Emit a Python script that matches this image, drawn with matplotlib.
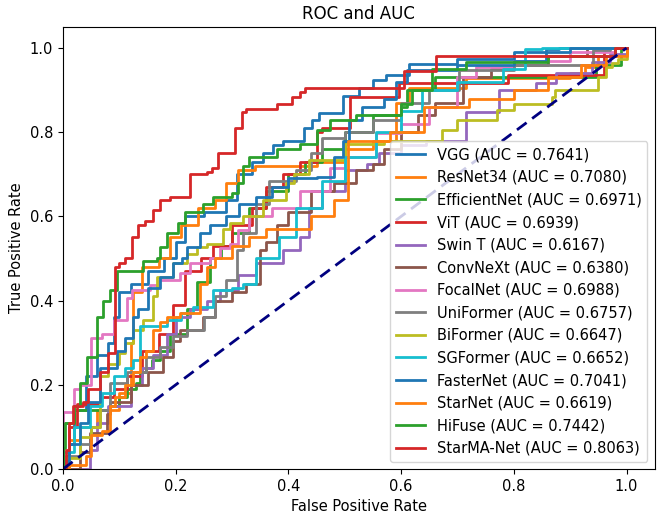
import matplotlib
matplotlib.use('Agg')
import matplotlib.pyplot as plt

# ROC step points: (fpr where tpr jumps, tpr after the jump)
names = ['VGG', 'ResNet34', 'EfficientNet', 'ViT', 'Swin T', 'ConvNeXt', 'FocalNet',
         'UniFormer', 'BiFormer', 'SGFormer', 'FasterNet', 'StarNet', 'HiFuse', 'StarMA-Net']
aucs = [0.7641, 0.7080, 0.6971, 0.6939, 0.6167, 0.6380, 0.6988,
        0.6757, 0.6647, 0.6652, 0.7041, 0.6619, 0.7442, 0.8063]

vgg_fpr = [0, 0, 0.01, 0.02, 0.04, 0.06, 0.08, 0.09, 0.10, 0.12, 0.15, 0.18, 0.20, 0.216, 0.25, 0.29, 0.308,
           0.336, 0.354, 0.372, 0.39, 0.428, 0.442, 0.455, 0.496, 0.526, 0.55, 0.573, 0.614, 0.70, 0.80, 0.857, 0.88, 1.0]
vgg_tpr = [0, 0.02, 0.06, 0.14, 0.22, 0.27, 0.30, 0.36, 0.42, 0.44, 0.47, 0.50, 0.54, 0.60, 0.61, 0.64, 0.70,
           0.73, 0.75, 0.77, 0.78, 0.81, 0.83, 0.845, 0.887, 0.906, 0.923, 0.935, 0.963, 0.975, 0.99, 0.998, 1.0, 1.0]

resnet_fpr = [0, 0.005, 0.01, 0.03, 0.06, 0.10, 0.12, 0.124, 0.14, 0.17, 0.19, 0.21, 0.24, 0.27, 0.29, 0.31,
              0.34, 0.45, 0.50, 0.55, 0.59, 0.614, 0.715, 0.90, 0.927, 0.95, 0.98, 1.0]
resnet_tpr = [0, 0.03, 0.07, 0.10, 0.14, 0.18, 0.30, 0.42, 0.48, 0.50, 0.55, 0.58, 0.62, 0.64, 0.68, 0.71,
              0.72, 0.73, 0.76, 0.78, 0.87, 0.904, 0.928, 0.94, 0.955, 0.98, 1.0, 1.0]

effnet_fpr = [0, 0, 0.02, 0.083, 0.10, 0.113, 0.13, 0.136, 0.148, 0.157, 0.172, 0.19, 0.22, 0.237, 0.26, 0.28,
              0.30, 0.33, 0.36, 0.40, 0.43, 0.46, 0.50, 0.55, 0.60, 0.61, 0.66, 0.945, 0.99, 1.0]
effnet_tpr = [0, 0.11, 0.14, 0.15, 0.17, 0.19, 0.205, 0.23, 0.24, 0.26, 0.28, 0.32, 0.38, 0.445, 0.50, 0.53,
              0.56, 0.62, 0.66, 0.70, 0.73, 0.76, 0.80, 0.84, 0.86, 0.90, 0.93, 0.96, 1.0, 1.0]

vit_fpr = [0, 0.005, 0.01, 0.024, 0.065, 0.09, 0.113, 0.14, 0.17, 0.195, 0.216, 0.245, 0.266, 0.30, 0.336,
           0.36, 0.39, 0.42, 0.45, 0.46, 0.51, 0.597, 0.79, 0.96, 1.0]
vit_tpr = [0, 0.03, 0.10, 0.155, 0.17, 0.19, 0.22, 0.28, 0.32, 0.39, 0.47, 0.50, 0.53, 0.58, 0.62,
           0.67, 0.70, 0.73, 0.80, 0.81, 0.883, 0.916, 0.935, 1.0, 1.0]

swin_fpr = [0, 0.047, 0.06, 0.08, 0.12, 0.14, 0.16, 0.184, 0.20, 0.225, 0.255, 0.278, 0.31, 0.343, 0.39, 0.42,
            0.437, 0.46, 0.50, 0.54, 0.56, 0.60, 0.644, 0.715, 0.773, 0.84, 0.874, 0.938, 0.97, 1.0]
swin_tpr = [0, 0.045, 0.11, 0.15, 0.20, 0.24, 0.27, 0.32, 0.36, 0.38, 0.40, 0.425, 0.46, 0.49, 0.52, 0.55,
            0.62, 0.66, 0.71, 0.725, 0.75, 0.77, 0.78, 0.847, 0.90, 0.918, 0.94, 0.966, 0.985, 1.0]

convnext_fpr = [0, 0.03, 0.047, 0.078, 0.083, 0.12, 0.15, 0.177, 0.195, 0.207, 0.248, 0.27, 0.30, 0.325, 0.35,
                0.36, 0.38, 0.40, 0.44, 0.48, 0.52, 0.55, 0.57, 0.60, 0.63, 0.66, 0.71, 0.76, 0.80, 0.86, 0.93, 1.0]
convnext_tpr = [0, 0.04, 0.085, 0.13, 0.16, 0.20, 0.23, 0.265, 0.305, 0.33, 0.36, 0.40, 0.42, 0.44, 0.52,
                0.54, 0.58, 0.61, 0.66, 0.68, 0.71, 0.725, 0.76, 0.80, 0.84, 0.87, 0.93, 0.95, 0.96, 0.98, 1.0, 1.0]

focal_fpr = [0, 0, 0.02, 0.03, 0.05, 0.07, 0.09, 0.113, 0.122, 0.154, 0.17, 0.207, 0.225, 0.26, 0.278, 0.296,
             0.31, 0.33, 0.37, 0.42, 0.473, 0.50, 0.556, 0.60, 0.65, 0.70, 0.733, 0.80, 0.90, 0.98, 1.0]
focal_tpr = [0, 0.135, 0.19, 0.20, 0.31, 0.32, 0.355, 0.405, 0.425, 0.437, 0.45, 0.465, 0.49, 0.50, 0.525, 0.535,
             0.567, 0.60, 0.62, 0.66, 0.716, 0.74, 0.797, 0.82, 0.86, 0.93, 0.954, 0.97, 0.99, 1.0, 1.0]

uni_fpr = [0, 0.01, 0.03, 0.05, 0.065, 0.083, 0.113, 0.148, 0.172, 0.195, 0.22, 0.25, 0.27, 0.29, 0.308, 0.32,
           0.343, 0.366, 0.414, 0.44, 0.46, 0.50, 0.55, 0.60, 0.65, 0.703, 0.80, 0.94, 0.97, 1.0]
uni_tpr = [0, 0.03, 0.06, 0.10, 0.14, 0.205, 0.23, 0.265, 0.29, 0.315, 0.33, 0.36, 0.41, 0.45, 0.52, 0.56,
           0.63, 0.685, 0.71, 0.75, 0.787, 0.80, 0.83, 0.87, 0.90, 0.947, 0.96, 0.995, 1.0, 1.0]

bi_fpr = [0, 0, 0.03, 0.05, 0.065, 0.08, 0.10, 0.11, 0.124, 0.142, 0.16, 0.166, 0.195, 0.22, 0.237, 0.255,
          0.283, 0.296, 0.32, 0.354, 0.396, 0.41, 0.437, 0.50, 0.57, 0.673, 0.70, 0.77, 0.80, 0.867,
          0.873, 0.95, 0.963, 0.975, 0.985, 1.0]
bi_tpr = [0, 0.025, 0.075, 0.10, 0.22, 0.25, 0.275, 0.30, 0.33, 0.355, 0.41, 0.455, 0.49, 0.51, 0.527, 0.535,
          0.57, 0.585, 0.60, 0.638, 0.68, 0.70, 0.733, 0.773, 0.78, 0.805, 0.828, 0.852, 0.868, 0.883,
          0.90, 0.93, 0.955, 0.965, 0.975, 1.0]

sg_fpr = [0, 0, 0.02, 0.047, 0.07, 0.09, 0.11, 0.124, 0.136, 0.184, 0.21, 0.23, 0.266, 0.30, 0.32, 0.343,
          0.384, 0.414, 0.46, 0.50, 0.556, 0.60, 0.637, 0.70, 0.78, 0.82, 0.85, 1.0]
sg_tpr = [0, 0.04, 0.10, 0.15, 0.18, 0.22, 0.24, 0.26, 0.34, 0.355, 0.37, 0.385, 0.425, 0.43, 0.44, 0.50,
          0.55, 0.62, 0.685, 0.74, 0.80, 0.85, 0.90, 0.92, 0.95, 0.997, 1.0, 1.0]

faster_fpr = [0, 0.005, 0.01, 0.03, 0.045, 0.065, 0.095, 0.11, 0.124, 0.133, 0.15, 0.172, 0.195, 0.212, 0.22,
              0.243, 0.26, 0.29, 0.313, 0.343, 0.37, 0.40, 0.45, 0.48, 0.497, 0.508, 0.53, 0.57, 0.59, 0.61,
              0.70, 0.80, 0.857, 0.90, 1.0]
faster_tpr = [0, 0.02, 0.06, 0.11, 0.16, 0.24, 0.28, 0.31, 0.36, 0.38, 0.43, 0.455, 0.49, 0.50, 0.527,
              0.56, 0.58, 0.60, 0.63, 0.645, 0.67, 0.69, 0.693, 0.74, 0.78, 0.828, 0.86, 0.88, 0.92, 0.947,
              0.96, 0.97, 0.99, 1.0, 1.0]

star_fpr = [0, 0.01, 0.04, 0.05, 0.07, 0.083, 0.092, 0.11, 0.125, 0.136, 0.148, 0.16, 0.172, 0.184, 0.207,
            0.243, 0.255, 0.27, 0.30, 0.33, 0.36, 0.44, 0.48, 0.505, 0.58, 0.64, 0.72, 0.80, 0.86,
            0.92, 0.963, 1.0]
star_tpr = [0, 0.01, 0.03, 0.08, 0.09, 0.15, 0.17, 0.20, 0.23, 0.265, 0.28, 0.33, 0.35, 0.36, 0.37,
            0.44, 0.48, 0.50, 0.53, 0.55, 0.57, 0.60, 0.64, 0.78, 0.80, 0.86, 0.88, 0.90, 0.93,
            0.96, 0.98, 1.0]

hifuse_fpr = [0, 0, 0.003, 0.02, 0.03, 0.042, 0.06, 0.071, 0.083, 0.095, 0.142, 0.166, 0.172, 0.184, 0.204,
              0.216, 0.248, 0.266, 0.30, 0.31, 0.32, 0.33, 0.38, 0.42, 0.45, 0.473, 0.52, 0.60, 0.62, 0.655,
              0.715, 0.86, 0.98, 1.0]
hifuse_tpr = [0, 0.05, 0.11, 0.15, 0.205, 0.265, 0.36, 0.40, 0.425, 0.47, 0.495, 0.50, 0.527, 0.56, 0.584,
              0.61, 0.63, 0.645, 0.655, 0.68, 0.72, 0.74, 0.76, 0.773, 0.805, 0.828, 0.84, 0.868, 0.90, 0.95,
              0.966, 0.98, 1.0, 1.0]

starma_fpr = [0, 0.005, 0.01, 0.018, 0.035, 0.045, 0.065, 0.08, 0.092, 0.10, 0.11, 0.122, 0.133, 0.145, 0.16,
              0.172, 0.19, 0.225, 0.255, 0.265, 0.275, 0.305, 0.317, 0.325, 0.379, 0.407, 0.42, 0.43, 0.605,
              0.662, 0.98, 1.0]
starma_tpr = [0, 0.045, 0.11, 0.15, 0.16, 0.19, 0.23, 0.275, 0.48, 0.49, 0.50, 0.55, 0.58, 0.59, 0.615,
              0.64, 0.645, 0.70, 0.705, 0.715, 0.75, 0.81, 0.847, 0.856, 0.868, 0.883, 0.895, 0.906, 0.946,
              0.982, 1.0, 1.0]

all_fpr = [vgg_fpr, resnet_fpr, effnet_fpr, vit_fpr, swin_fpr, convnext_fpr, focal_fpr,
           uni_fpr, bi_fpr, sg_fpr, faster_fpr, star_fpr, hifuse_fpr, starma_fpr]
all_tpr = [vgg_tpr, resnet_tpr, effnet_tpr, vit_tpr, swin_tpr, convnext_tpr, focal_tpr,
           uni_tpr, bi_tpr, sg_tpr, faster_tpr, star_tpr, hifuse_tpr, starma_tpr]

fig = plt.figure(figsize=(6.6, 5.18), dpi=100)
ax = fig.add_axes([0.0955, 0.0946, 0.8965, 0.8534])

for name, auc, fpr, tpr in zip(names, aucs, all_fpr, all_tpr):
    ax.plot(fpr, tpr, lw=2, drawstyle='steps-post', label='%s (AUC = %.4f)' % (name, auc))

ax.plot([0, 1], [0, 1], color='navy', lw=2, linestyle='--', dashes=(4.3, 2.5))

ax.set_xlim(0.0, 1.05)
ax.set_ylim(0.0, 1.05)
ax.tick_params(labelsize=10.5)
ax.set_xlabel('False Positive Rate', fontsize=10.5)
ax.set_ylabel('True Positive Rate', fontsize=10.5)
ax.set_title('ROC and AUC', fontsize=12)
ax.legend(loc='lower right', fontsize=10.5, labelspacing=0.52)

fig.savefig('out.png', dpi=100)
